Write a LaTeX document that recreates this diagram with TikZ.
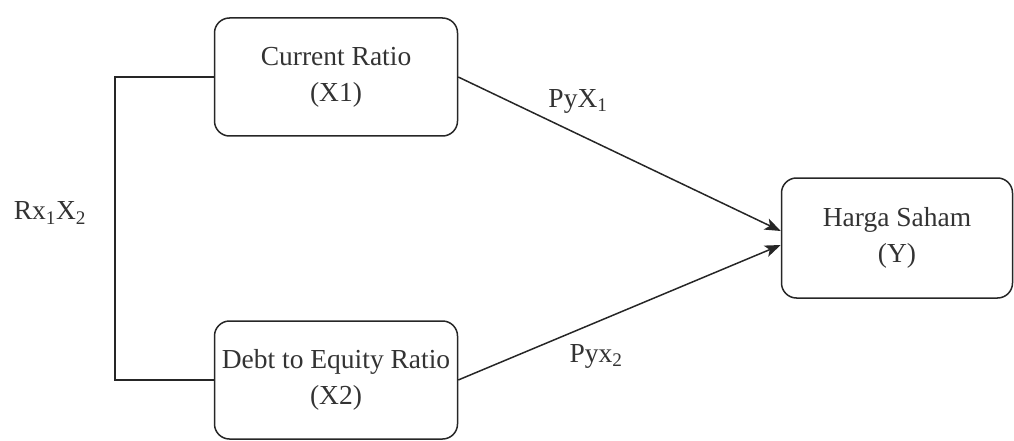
\documentclass[tikz,border=0pt]{standalone}
\usepackage{fontspec}
\setmainfont{Liberation Serif}
\usetikzlibrary{arrows.meta}
\begin{document}
\begin{tikzpicture}[x=1pt,y=-1pt,
  box/.style={draw=black!85, line width=1.5pt, rounded corners=15pt, align=center,
    font=\fontsize{27.5}{36}\selectfont, text=black!80, inner sep=0pt},
  conn/.style={draw=black!85, line width=1.5pt},
  arr/.style={conn, -{Stealth[length=16pt,width=12pt,inset=4pt]}},
  lbl/.style={font=\fontsize{27.5}{32}\selectfont, text=black!80, inner sep=0pt}]
\useasboundingbox (0,0) rectangle (1014,441);
\node[box, minimum width=243pt, minimum height=118pt] (x1) at (336,77) {Current Ratio\\(X1)};
\node[box, minimum width=243pt, minimum height=118pt] (x2) at (336,380) {Debt to Equity Ratio\\(X2)};
\node[box, minimum width=231pt, minimum height=120pt] (y) at (897,238) {Harga Saham\\(Y)};
\coordinate (bl) at (115,0);
\draw[conn] (x1.west) -- (x1.west -| bl) -- (x2.west -| bl) -- (x2.west);
\draw[arr] (x1.east) -- ([yshift=7pt]y.west);
\draw[arr] (x2.east) -- ([yshift=-7pt]y.west);
\node[lbl] (r) at (50,213) {Rx\textsubscript{1}X\textsubscript{2}};
\node[lbl] (p1) at (578,101) {PyX\textsubscript{1}};
\node[lbl] (p2) at (596,356) {Pyx\textsubscript{2}};
\end{tikzpicture}
\end{document}
